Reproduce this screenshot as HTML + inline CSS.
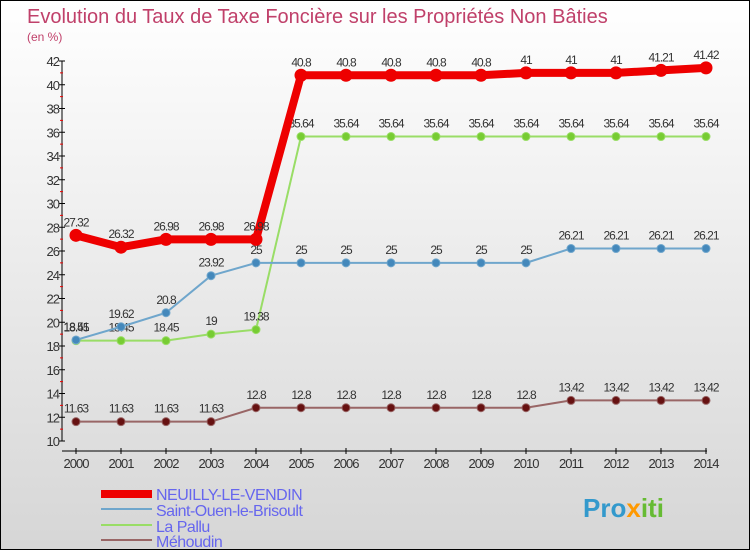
<!DOCTYPE html>
<html><head><meta charset="utf-8"><style>
body{margin:0}
#c{width:748px;height:548px;border:1px solid #000;background:linear-gradient(#ffffff,#d6d6d6);position:relative;overflow:hidden;font-family:"Liberation Sans",sans-serif}
</style></head><body>
<div id="c">
<svg id="s" width="748" height="548" xmlns="http://www.w3.org/2000/svg">
<text x="26" y="22" font-size="20" fill="#c0406a">Evolution du Taux de Taxe Foncière sur les Propriétés Non Bâties</text>
<text x="26" y="40" font-size="12" fill="#c0406a">(en %)</text>
<g id="axes"></g><g id="series"></g>
<g>
<rect x="100" y="489" width="51" height="8" fill="#ee0000"/>
<text x="155" y="499" font-size="16" fill="#6666ee" letter-spacing="-0.5">NEUILLY-LE-VENDIN</text>
<rect x="100" y="507" width="51" height="2" fill="#6fa6cc"/>
<text x="155" y="515" font-size="16" fill="#6666ee" letter-spacing="-0.5">Saint-Ouen-le-Brisoult</text>
<rect x="100" y="523" width="51" height="2" fill="#99dd66"/>
<text x="155" y="531" font-size="16" fill="#6666ee" letter-spacing="-0.5">La Pallu</text>
<rect x="100" y="538" width="51" height="2" fill="#996666"/>
<text x="155" y="546" font-size="16" fill="#6666ee" letter-spacing="-0.5">Méhoudin</text>
</g>
<text x="582" y="516" font-size="26" font-weight="bold" fill="#3399cc">Pro<tspan fill="#ff9900">x</tspan><tspan fill="#66bb33">iti</tspan></text>
</svg></div>
<script>
const years=[2000,2001,2002,2003,2004,2005,2006,2007,2008,2009,2010,2011,2012,2013,2014];
const yTicks=[10,12,14,16,18,20,22,24,26,28,30,32,34,36,38,40,42];
const neuilly=[27.32,26.32,26.98,26.98,26.98,40.8,40.8,40.8,40.8,40.8,41,41,41,41.21,41.42];
const saintOuen=[18.51,19.62,20.8,23.92,25,25,25,25,25,25,25,26.21,26.21,26.21,26.21];
const laPallu=[18.45,18.45,18.45,19,19.38,35.64,35.64,35.64,35.64,35.64,35.64,35.64,35.64,35.64,35.64];
const mehoudin=[11.63,11.63,11.63,11.63,12.8,12.8,12.8,12.8,12.8,12.8,12.8,13.42,13.42,13.42,13.42];
const NS="http://www.w3.org/2000/svg";
function X(y){return 75+(y-2000)*45;}
function Y(v){return 440-(v-10)*(380/32);}
function mk(t,a,p){const e=document.createElementNS(NS,t);for(const k in a)e.setAttribute(k,a[k]);(p||document.getElementById('axes')).appendChild(e);return e;}
let e=mk('line',{x1:61,y1:Y(42),x2:61,y2:Y(10),stroke:'#000'});

e=mk('line',{x1:61,y1:450,x2:706,y2:450,stroke:'#000'});

yTicks.forEach(v=>{
 mk('line',{x1:58,y1:Y(v),x2:64,y2:Y(v),stroke:'#000'});
 if(v<42)mk('line',{x1:59,y1:Y(v+1),x2:62,y2:Y(v+1),stroke:'#e00'});
 const t=mk('text',{x:58,y:Y(v)+5,'font-size':13,fill:'#333','text-anchor':'end','letter-spacing':'-1'});t.textContent=v;
 
});
years.forEach(y=>{
 mk('line',{x1:X(y),y1:447,x2:X(y),y2:453,stroke:'#000'});
 const t=mk('text',{x:X(y),y:467,'font-size':13,fill:'#333','text-anchor':'middle','letter-spacing':'-1'});t.textContent=y;
 
});
const sg=document.getElementById('series');
function draw(vals,name,col,w,r,dot){
 const g=mk('g',{},sg);
 const l=mk('polyline',{points:vals.map((v,i)=>X(years[i])+','+Y(v)).join(' '),fill:'none',stroke:col,'stroke-width':w,'stroke-linejoin':'round'},g);
 
 vals.forEach((v,i)=>{
  const c=mk('circle',{cx:X(years[i]),cy:Y(v),r:r,fill:dot,stroke:col,'stroke-width':1},g);
  
  const t=mk('text',{x:X(years[i]),y:Y(v)-9,'font-size':12,fill:'#333','text-anchor':'middle','letter-spacing':'-1'},g);t.textContent=v;
  
 });
}
draw(mehoudin,'mehoudin','#996666',2,4,'#661111');
draw(laPallu,'la-pallu','#99dd66',2,4,'#77cc33');
draw(saintOuen,'saint-ouen','#6fa6cc',2,4,'#4488bb');
draw(neuilly,'neuilly','#ee0000',8,6,'#ee0000');
</script>
</body></html>
